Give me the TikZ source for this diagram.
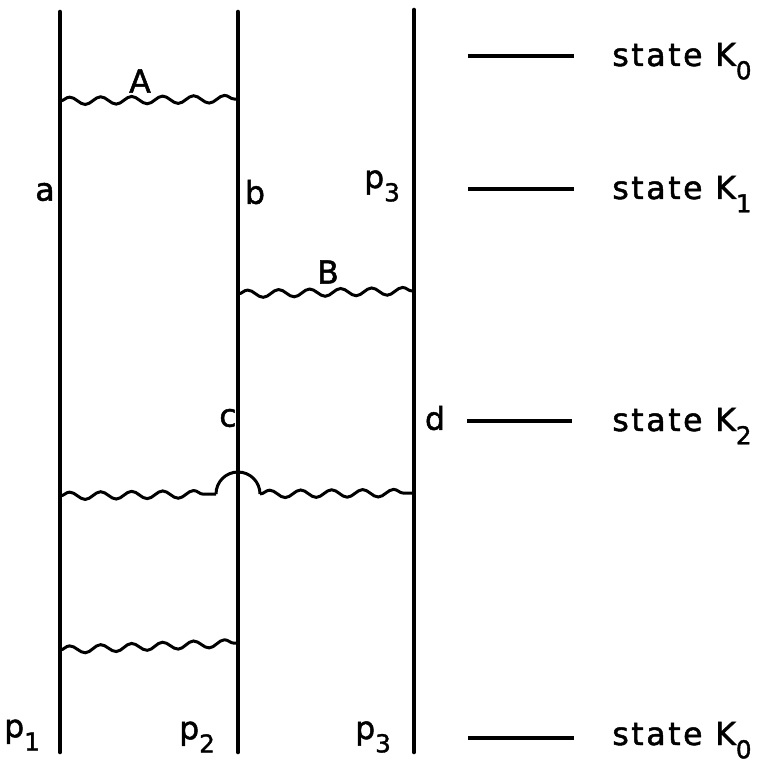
\documentclass[tikz,border=0pt]{standalone}
\usepackage{fontspec}
\setmainfont{DejaVu Sans}[LetterSpace=8,FakeBold=1.5]
\usetikzlibrary{decorations.pathmorphing}
\newcommand{\lowsub}[1]{\raisebox{-0.42em}{\fontsize{14}{14}\selectfont #1}}
\begin{document}
\begin{tikzpicture}[x=0.02cm,y=-0.02cm,
  worldline/.style={line width=2.6pt,line cap=round},
  wavy/.style={line width=1.7pt,decorate,decoration={snake,segment length=0.62cm,amplitude=0.075cm}},
  levelline/.style={line width=1.9pt},
  lbl/.style={font=\fontsize{18}{18}\selectfont,inner sep=0pt},
  statelbl/.style={font=\fontsize{18}{18}\selectfont,inner sep=0pt,anchor=base west}]
\useasboundingbox (0,0) rectangle (761,763);
% world lines
\coordinate (aT) at (60,12);  \coordinate (aB) at (60,752);
\coordinate (bT) at (238,12); \coordinate (bB) at (238,752);
\coordinate (dT) at (414,10); \coordinate (dB) at (414,752);
\draw[worldline] (aT) -- (aB);
\draw[worldline] (bT) -- (bB);
\draw[worldline] (dT) -- (dB);
% wavy exchanges
\coordinate (A1) at (60,101); \coordinate (A2) at (238,99);
\draw[wavy] (A1) -- (A2);
\node[lbl] (Alab) at (140,81) {A};
\coordinate (B1) at (238,294); \coordinate (B2) at (414,291);
\draw[wavy] (B1) -- (B2);
\node[lbl] (Blab) at (328,272) {B};
\coordinate (C1) at (60,496); \coordinate (C2) at (216,494);
\coordinate (C3) at (260,494); \coordinate (C4) at (414,493);
\draw[wavy] (C1) -- (C2);
\draw[line width=1.7pt] (C2) arc[start angle=180,end angle=360,radius=22];
\draw[wavy] (C3) -- (C4);
\coordinate (D1) at (60,650); \coordinate (D2) at (238,643);
\draw[wavy] (D1) -- (D2);
% labels
\node[lbl] (la) at (45,192) {a};
\node[lbl] (lb) at (255,192) {b};
\node[lbl] (lp3t) at (382,186) {p\lowsub{3}};
\node[lbl] (lc) at (228,418) {c};
\node[lbl] (ld) at (435,418) {d};
\node[lbl] (lp1) at (22,735) {p\lowsub{1}};
\node[lbl] (lp2) at (197,737) {p\lowsub{2}};
\node[lbl] (lp3b) at (373,737) {p\lowsub{3}};
% state levels
\coordinate (s0a) at (468,56);  \coordinate (s0b) at (574,56);
\coordinate (s1a) at (468,189); \coordinate (s1b) at (574,189);
\coordinate (s2a) at (467,421); \coordinate (s2b) at (572,421);
\coordinate (s3a) at (468,738); \coordinate (s3b) at (574,738);
\draw[levelline] (s0a) -- (s0b);
\draw[levelline] (s1a) -- (s1b);
\draw[levelline] (s2a) -- (s2b);
\draw[levelline] (s3a) -- (s3b);
\node[statelbl] (k0) at (612,66) {state K\lowsub{0}};
\node[statelbl] (k1) at (612,199) {state K\lowsub{1}};
\node[statelbl] (k2) at (612,431) {state K\lowsub{2}};
\node[statelbl] (k3) at (612,745) {state K\lowsub{0}};
\end{tikzpicture}
\end{document}
